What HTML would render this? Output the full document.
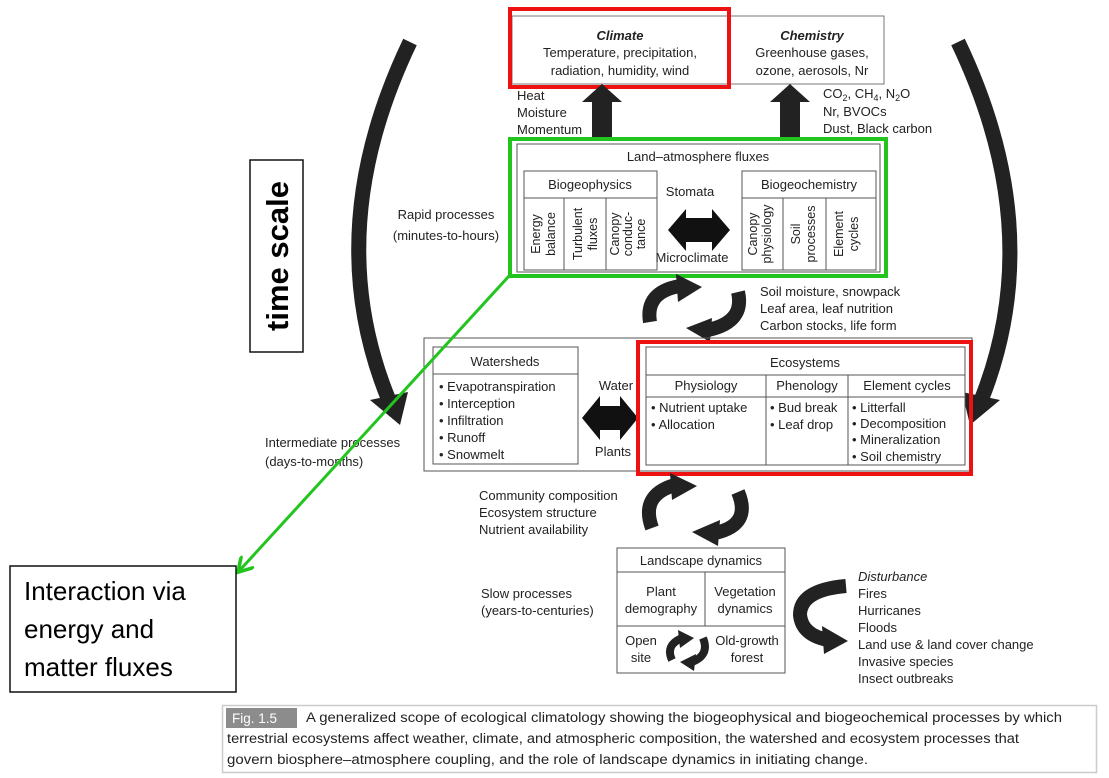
<!DOCTYPE html>
<html><head><meta charset="utf-8"><style>
body{margin:0;background:#fff;}
svg{display:block;font-family:"Liberation Sans",Arial,sans-serif;}
</style></head><body>
<svg width="1109" height="778" viewBox="0 0 1109 778" xmlns="http://www.w3.org/2000/svg">
<defs>
<marker id="ga" markerWidth="6" markerHeight="6" refX="4" refY="3" orient="auto" markerUnits="strokeWidth"><path d="M0,0 L5,3 L0,6" fill="none" stroke="#22c51e" stroke-width="1.2"/></marker>
</defs>
<g font-size="13" fill="#222">
<!-- top box -->
<rect x="512" y="16" width="372" height="68" fill="none" stroke="#777" stroke-width="1"/>
<rect x="510" y="9" width="219" height="78" fill="none" stroke="#ee1111" stroke-width="4"/>
<text x="620" y="40" text-anchor="middle" font-weight="bold" font-style="italic">Climate</text>
<text x="620" y="57" text-anchor="middle">Temperature, precipitation,</text>
<text x="620" y="75" text-anchor="middle">radiation, humidity, wind</text>
<text x="812" y="40" text-anchor="middle" font-weight="bold" font-style="italic">Chemistry</text>
<text x="812" y="57" text-anchor="middle">Greenhouse gases,</text>
<text x="812" y="75" text-anchor="middle">ozone, aerosols, Nr</text>
<!-- up arrows -->
<path d="M592,140 L592,102 L582,102 L602,84 L622,102 L612,102 L612,140 Z" fill="#222"/>
<path d="M780,140 L780,102 L770,102 L790,84 L810,102 L800,102 L800,140 Z" fill="#222"/>
<text x="517" y="100">Heat</text>
<text x="517" y="117">Moisture</text>
<text x="517" y="134">Momentum</text>
<text x="823" y="98">CO<tspan font-size="9" dy="3">2</tspan><tspan dy="-3">, CH</tspan><tspan font-size="9" dy="3">4</tspan><tspan dy="-3">, N</tspan><tspan font-size="9" dy="3">2</tspan><tspan dy="-3">O</tspan></text>
<text x="823" y="116">Nr, BVOCs</text>
<text x="823" y="133">Dust, Black carbon</text>
<!-- land atmosphere -->
<rect x="517" y="144" width="363" height="128" fill="#fff" stroke="#555" stroke-width="1"/>
<rect x="510" y="139" width="376" height="137" fill="none" stroke="#22c51e" stroke-width="4"/>
<text x="698" y="161" text-anchor="middle">Land–atmosphere fluxes</text>
<rect x="524" y="171" width="133" height="99" fill="none" stroke="#555"/>
<line x1="524" y1="198" x2="657" y2="198" stroke="#555"/>
<line x1="564" y1="198" x2="564" y2="270" stroke="#555"/>
<line x1="606" y1="198" x2="606" y2="270" stroke="#555"/>
<text x="590" y="189" text-anchor="middle">Biogeophysics</text>
<g font-size="12.5">
<text transform="translate(540,234) rotate(-90)" text-anchor="middle">Energy</text>
<text transform="translate(555,234) rotate(-90)" text-anchor="middle">balance</text>
<text transform="translate(582,234) rotate(-90)" text-anchor="middle">Turbulent</text>
<text transform="translate(597,234) rotate(-90)" text-anchor="middle">fluxes</text>
<text transform="translate(619,234) rotate(-90)" text-anchor="middle">Canopy</text>
<text transform="translate(632,234) rotate(-90)" text-anchor="middle">conduc-</text>
<text transform="translate(645,234) rotate(-90)" text-anchor="middle">tance</text>
</g>
<rect x="742" y="171" width="134" height="99" fill="none" stroke="#555"/>
<line x1="742" y1="198" x2="876" y2="198" stroke="#555"/>
<line x1="783" y1="198" x2="783" y2="270" stroke="#555"/>
<line x1="826" y1="198" x2="826" y2="270" stroke="#555"/>
<text x="809" y="189" text-anchor="middle">Biogeochemistry</text>
<g font-size="12.5">
<text transform="translate(757,234) rotate(-90)" text-anchor="middle">Canopy</text>
<text transform="translate(771,234) rotate(-90)" text-anchor="middle">physiology</text>
<text transform="translate(800,234) rotate(-90)" text-anchor="middle">Soil</text>
<text transform="translate(815,234) rotate(-90)" text-anchor="middle">processes</text>
<text transform="translate(843,234) rotate(-90)" text-anchor="middle">Element</text>
<text transform="translate(858,234) rotate(-90)" text-anchor="middle">cycles</text>
</g>
<text x="690" y="196" text-anchor="middle">Stomata</text>
<text x="692" y="262" text-anchor="middle">Microclimate</text>
<path d="M668,230 L686,209 L686,218 L712,218 L712,209 L730,230 L712,251 L712,242 L686,242 L686,251 Z" fill="#111"/>
<!-- time scale -->
<rect x="250" y="160" width="53" height="192" fill="#fff" stroke="#111" stroke-width="1.5"/>
<text transform="translate(288,256) rotate(-90)" text-anchor="middle" font-size="31" font-weight="bold" fill="#000">time scale</text>
<!-- big side arrows -->
<path d="M410,42 Q320,230 388,398" fill="none" stroke="#222" stroke-width="15"/>
<path d="M370,400 L408,392 L400,425 Z" fill="#222"/>
<path d="M958,42 Q1048,230 982,398" fill="none" stroke="#222" stroke-width="15"/>
<path d="M1000,400 L962,392 L970,425 Z" fill="#222"/>
<text x="446" y="219" text-anchor="middle">Rapid processes</text>
<text x="446" y="240" text-anchor="middle">(minutes-to-hours)</text>
<!-- circular arrows 1 -->
<path d="M650,322 Q645,292 680,286" fill="none" stroke="#222" stroke-width="14"/>
<path d="M676,274 L702,287 L678,302 Z" fill="#222"/>
<path d="M738,292 Q745,322 708,330" fill="none" stroke="#222" stroke-width="14"/>
<path d="M712,318 L686,328 L710,342 Z" fill="#222"/>
<text x="760" y="296">Soil moisture, snowpack</text>
<text x="760" y="313">Leaf area, leaf nutrition</text>
<text x="760" y="330">Carbon stocks, life form</text>
<!-- middle outer box -->
<rect x="424" y="338" width="548" height="133" fill="none" stroke="#555"/>
<rect x="433" y="347" width="145" height="117" fill="#fff" stroke="#555"/>
<line x1="433" y1="374" x2="578" y2="374" stroke="#555"/>
<text x="505" y="366" text-anchor="middle">Watersheds</text>
<text x="439" y="391">• Evapotranspiration</text>
<text x="439" y="408">• Interception</text>
<text x="439" y="425">• Infiltration</text>
<text x="439" y="442">• Runoff</text>
<text x="439" y="459">• Snowmelt</text>
<text x="616" y="390" text-anchor="middle">Water</text>
<text x="613" y="456" text-anchor="middle">Plants</text>
<path d="M582,418 L600,396 L600,406 L620,406 L620,396 L638,418 L620,440 L620,430 L600,430 L600,440 Z" fill="#111"/>
<rect x="646" y="347" width="319" height="118" fill="#fff" stroke="#555"/>
<line x1="646" y1="375" x2="965" y2="375" stroke="#555"/>
<line x1="646" y1="397" x2="965" y2="397" stroke="#555"/>
<line x1="766" y1="375" x2="766" y2="465" stroke="#555"/>
<line x1="848" y1="375" x2="848" y2="465" stroke="#555"/>
<text x="805" y="367" text-anchor="middle">Ecosystems</text>
<text x="706" y="390" text-anchor="middle">Physiology</text>
<text x="807" y="390" text-anchor="middle">Phenology</text>
<text x="907" y="390" text-anchor="middle">Element cycles</text>
<text x="651" y="412">• Nutrient uptake</text>
<text x="651" y="429">• Allocation</text>
<text x="770" y="412">• Bud break</text>
<text x="770" y="429">• Leaf drop</text>
<text x="852" y="412">• Litterfall</text>
<text x="852" y="428">• Decomposition</text>
<text x="852" y="444">• Mineralization</text>
<text x="852" y="461">• Soil chemistry</text>
<rect x="638" y="342" width="333" height="132" fill="none" stroke="#ee1111" stroke-width="4"/>
<text x="265" y="447">Intermediate processes</text>
<text x="265" y="466">(days-to-months)</text>
<!-- green connector -->
<line x1="509" y1="276" x2="240" y2="570" stroke="#22c51e" stroke-width="3" marker-end="url(#ga)"/>
<rect x="10" y="566" width="226" height="126" fill="#fff" stroke="#111" stroke-width="1.5"/>
<g font-size="26" fill="#000">
<text x="24" y="600">Interaction via</text>
<text x="24" y="638">energy and</text>
<text x="24" y="676">matter fluxes</text>
</g>
<!-- circular arrows 2 -->
<path d="M652,528 Q640,495 675,485" fill="none" stroke="#222" stroke-width="14"/>
<path d="M670,473 L697,486 L672,500 Z" fill="#222"/>
<path d="M738,492 Q752,525 715,533" fill="none" stroke="#222" stroke-width="14"/>
<path d="M720,520 L692,532 L718,546 Z" fill="#222"/>
<text x="479" y="500">Community composition</text>
<text x="479" y="517">Ecosystem structure</text>
<text x="479" y="534">Nutrient availability</text>
<!-- landscape -->
<rect x="617" y="548" width="168" height="125" fill="#fff" stroke="#555"/>
<line x1="617" y1="572" x2="785" y2="572" stroke="#555"/>
<line x1="617" y1="626" x2="785" y2="626" stroke="#555"/>
<line x1="705" y1="572" x2="705" y2="626" stroke="#555"/>
<text x="701" y="565" text-anchor="middle">Landscape dynamics</text>
<text x="661" y="596" text-anchor="middle">Plant</text>
<text x="661" y="613" text-anchor="middle">demography</text>
<text x="745" y="596" text-anchor="middle">Vegetation</text>
<text x="745" y="613" text-anchor="middle">dynamics</text>
<text x="641" y="645" text-anchor="middle">Open</text>
<text x="641" y="662" text-anchor="middle">site</text>
<text x="747" y="645" text-anchor="middle">Old-growth</text>
<text x="747" y="662" text-anchor="middle">forest</text>
<path d="M672,660 Q665,645 682,638" fill="none" stroke="#222" stroke-width="8"/>
<path d="M678,630 L694,638 L680,648 Z" fill="#222"/>
<path d="M703,638 Q710,655 692,662" fill="none" stroke="#222" stroke-width="8"/>
<path d="M696,654 L680,662 L694,671 Z" fill="#222"/>
<text x="481" y="598">Slow processes</text>
<text x="481" y="615">(years-to-centuries)</text>
<!-- disturbance arrow -->
<path d="M846,586 Q800,590 800,615 Q802,635 828,640" fill="none" stroke="#222" stroke-width="14"/>
<path d="M822,626 L848,641 L824,654 Z" fill="#222"/>
<text x="858" y="581" font-style="italic">Disturbance</text>
<text x="858" y="598">Fires</text>
<text x="858" y="615">Hurricanes</text>
<text x="858" y="632">Floods</text>
<text x="858" y="649">Land use &amp; land cover change</text>
<text x="858" y="666">Invasive species</text>
<text x="858" y="683">Insect outbreaks</text>
</g>
<!-- caption -->
<rect x="222.5" y="705.5" width="874" height="67" fill="#fff" stroke="#ccc" stroke-width="1.5"/>
<rect x="226" y="708" width="71" height="20" fill="#8c8c8c"/>
<text x="232" y="723" font-size="13.5" fill="#fff">Fig. 1.5</text>
<g font-size="13.5" fill="#222">
<text x="306" y="722" textLength="756" lengthAdjust="spacingAndGlyphs">A generalized scope of ecological climatology showing the biogeophysical and biogeochemical processes by which</text>
<text x="227" y="743" textLength="792" lengthAdjust="spacingAndGlyphs">terrestrial ecosystems affect weather, climate, and atmospheric composition, the watershed and ecosystem processes that</text>
<text x="227" y="764" textLength="641" lengthAdjust="spacingAndGlyphs">govern biosphere–atmosphere coupling, and the role of landscape dynamics in initiating change.</text>
</g>
</svg>
</body></html>
